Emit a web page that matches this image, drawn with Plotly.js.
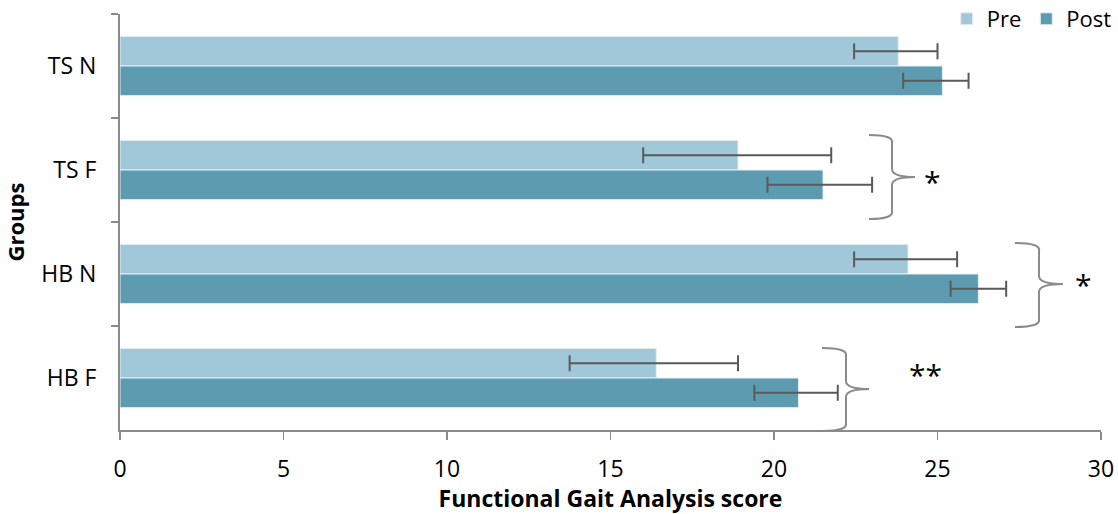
<!DOCTYPE html>
<html><head><meta charset="utf-8">
<script src="https://cdn.plot.ly/plotly-3.0.1.min.js"></script>
<style>html,body{margin:0;padding:0;background:#fff}#chart{width:1118px;height:514px}</style>
</head><body><div id="chart"></div>
<script>
var groups = ["TS N", "TS F", "HB N", "HB F"];
var preValues = [23.8, 18.9, 24.1, 16.4];
var preErrPlus = [1.2, 2.85, 1.5, 2.5];
var preErrMinus = [1.35, 2.9, 1.65, 2.65];
var postValues = [25.15, 21.5, 26.25, 20.75];
var postErrPlus = [0.8, 1.5, 0.85, 1.2];
var postErrMinus = [1.2, 1.7, 0.85, 1.35];
var xTicks = [0, 5, 10, 15, 20, 25, 30];

var errStyle = {color: "#5a5a5a", thickness: 2, width: 8};
var traces = [
  {type: "bar", orientation: "h", name: "Pre", y: groups, x: preValues,
   marker: {color: "#A0C8D8", line: {color: "#e6f0f4", width: 1}},
   error_x: Object.assign({type: "data", symmetric: false, array: preErrPlus, arrayminus: preErrMinus}, errStyle)},
  {type: "bar", orientation: "h", name: "Post", y: groups, x: postValues,
   marker: {color: "#5D9BB1", line: {color: "#e6f0f4", width: 1}},
   error_x: Object.assign({type: "data", symmetric: false, array: postErrPlus, arrayminus: postErrMinus}, errStyle)}
];

var T = 14, B = 430, H = 514 - 84 - 14;
function py(p) { return 1 - (p - T) / H; }
function px2x(p) { return (p - 120) / 32.7; }
function brace(xl, xv, xp, yt, yb, ym) {
  var r = 8;
  var a = px2x(xl), v = px2x(xv), pt = px2x(xp), vr = px2x(xv + 2);
  return "M" + a + "," + py(yt) + " Q" + vr + "," + py(yt) + " " + v + "," + py(yt + r) +
    " L" + v + "," + py(ym - r) + " Q" + v + "," + py(ym) + " " + pt + "," + py(ym) +
    " Q" + v + "," + py(ym) + " " + v + "," + py(ym + r) +
    " L" + v + "," + py(yb - r) + " Q" + vr + "," + py(yb) + " " + a + "," + py(yb);
}
var braceLine = {color: "#8a8a8a", width: 2};
var shapes = [
  {type: "path", xref: "x", yref: "paper", path: brace(869, 892, 915, 135, 219, 177), line: braceLine},
  {type: "path", xref: "x", yref: "paper", path: brace(1015, 1039, 1063, 243, 327, 284), line: braceLine},
  {type: "path", xref: "x", yref: "paper", path: brace(822, 846, 869, 348, 431, 389), line: braceLine}
];
var annotations = [
  {xref: "x", yref: "paper", x: px2x(932), y: py(181), text: "*", showarrow: false, font: {size: 30, color: "#000"}},
  {xref: "x", yref: "paper", x: px2x(1083), y: py(284), text: "*", showarrow: false, font: {size: 30, color: "#000"}},
  {xref: "x", yref: "paper", x: px2x(925), y: py(397), text: "**", showarrow: false, font: {size: 30, color: "#000"}}
];

var layout = {
  width: 1118, height: 514,
  margin: {l: 120, r: 17, t: 14, b: 84, autoexpand: false},
  paper_bgcolor: "#fff", plot_bgcolor: "#fff",
  font: {family: "Open Sans, Noto Sans, sans-serif", size: 23, color: "#000"},
  barmode: "group", bargap: 0.43, bargroupgap: 0,
  showlegend: true,
  legend: {orientation: "h", x: 1.016, xanchor: "right", y: py(19), yanchor: "middle",
           font: {size: 22}, bgcolor: "rgba(0,0,0,0)", traceorder: "normal"},
  xaxis: {range: [0, 30], tickvals: xTicks, ticktext: xTicks.map(String), showgrid: false, zeroline: false,
          showline: true, linecolor: "#8a8a8a", linewidth: 2, ticks: "outside", ticklen: 8, tickwidth: 1.5, tickcolor: "#8a8a8a",
          ticklabelstandoff: 9, tickfont: {size: 23},
          title: {text: "<b>Functional Gait Analysis score</b>", font: {size: 23}, standoff: 1}},
  yaxis: {type: "category", categoryorder: "array", categoryarray: groups, autorange: "reversed",
          showgrid: false, zeroline: false, showline: true, linecolor: "#8a8a8a", linewidth: 2,
          ticks: "outside", ticklen: 7, tickwidth: 1.5, tickcolor: "#8a8a8a", tickson: "boundaries",
          ticklabelstandoff: 17, tickfont: {size: 23},
          title: {text: "<b>Groups</b>", font: {size: 22}, standoff: 14}},
  shapes: shapes,
  annotations: annotations
};
Plotly.newPlot("chart", traces, layout, {displayModeBar: false, staticPlot: true});
</script></body></html>
